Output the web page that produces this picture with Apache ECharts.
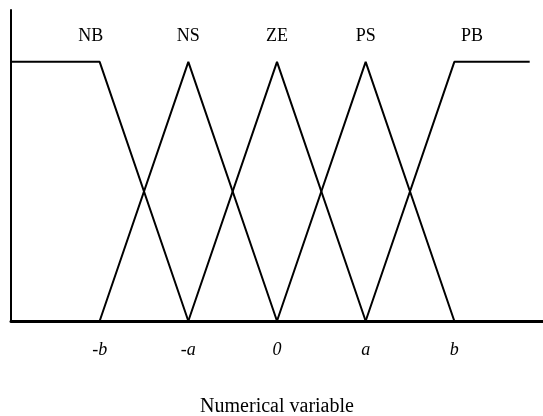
<!DOCTYPE html>
<html>
<head>
<meta charset="utf-8">
<script src="https://cdn.jsdelivr.net/npm/echarts@6/dist/echarts.min.js"></script>
<style>
  html, body { margin: 0; padding: 0; background: #fff; }
  #chart { width: 543px; height: 416px; }
</style>
</head>
<body>
<div id="chart"></div>
<script>
// membership functions, x in units of a (a = 1, b = 2)
const setNames = ['NB', 'NS', 'ZE', 'PS', 'PB'];
const nbPoints = [[-3, 1], [-2, 1], [-1, 0]];
const nsPoints = [[-2, 0], [-1, 1], [0, 0]];
const zePoints = [[-1, 0], [0, 1], [1, 0]];
const psPoints = [[0, 0], [1, 1], [2, 0]];
const pbPoints = [[1, 0], [2, 1], [2.85, 1]];
const labelX = [-2.1, -1, 0, 1, 2.2];

const tickLabels = { '-2': '-b', '-1': '-a', '0': '0', '1': 'a', '2': 'b' };

const chart = echarts.init(document.getElementById('chart'));

const allPoints = [nbPoints, nsPoints, zePoints, psPoints, pbPoints];

const series = allPoints.map((pts, i) => ({
  type: 'line',
  name: setNames[i],
  data: pts,
  showSymbol: false,
  silent: true,
  lineStyle: { color: '#000', width: 2 },
  markPoint: {
    symbol: 'circle',
    symbolSize: 0,
    data: [{ coord: [labelX[i], 1] }],
    label: {
      show: true,
      formatter: setNames[i],
      offset: [0, -26],
      color: '#000',
      fontFamily: 'Liberation Serif',
      fontSize: 18
    }
  }
}));

chart.setOption({
  animation: false,
  grid: { left: 11, right: 0, top: 10, bottom: 95, outerBoundsMode: 'none' },
  xAxis: {
    type: 'value',
    min: -3,
    max: 3,
    interval: 1,
    splitLine: { show: false },
    axisTick: { show: false },
    axisLine: { onZero: false, lineStyle: { color: '#000', width: 3 } },
    axisLabel: {
      margin: 20,
      color: '#000',
      fontFamily: 'Liberation Serif',
      fontStyle: 'italic',
      fontSize: 18,
      formatter: v => tickLabels[String(v)] || ''
    },
    name: 'Numerical variable',
    nameLocation: 'middle',
    nameGap: 76,
    nameTextStyle: { color: '#000', fontFamily: 'Liberation Serif', fontSize: 20 }
  },
  yAxis: {
    type: 'value',
    min: 0,
    max: 1.2,
    splitLine: { show: false },
    axisTick: { show: false },
    axisLabel: { show: false },
    axisLine: { show: true, onZero: false, lineStyle: { color: '#000', width: 2 } }
  },
  series: series
});
</script>
</body>
</html>
